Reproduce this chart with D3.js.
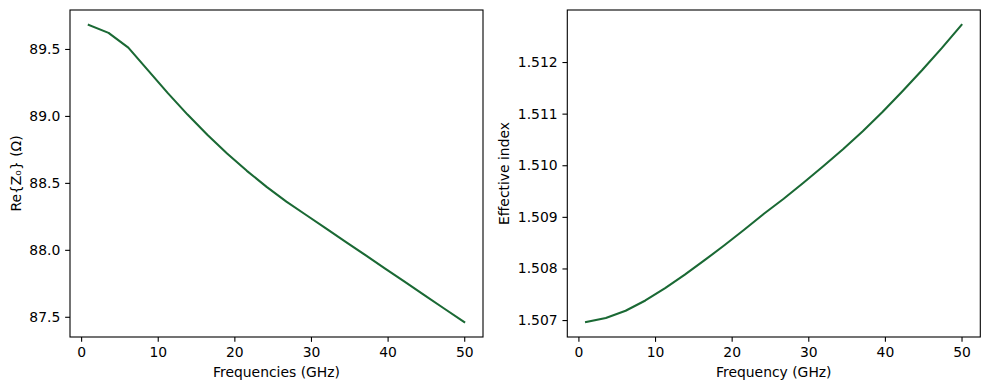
<!DOCTYPE html>
<html>
<head>
<meta charset="utf-8">
<script src="https://cdn.jsdelivr.net/npm/d3@7"></script>
<style>
  body { margin: 0; background: #fff; }
  svg { display: block; font-family: "DejaVu Sans", sans-serif; }
</style>
</head>
<body>
<svg id="chart" width="989" height="390"></svg>
<script>
// ---- data ----
const frequencies = [1.00, 3.58, 6.16, 8.74, 11.32, 13.89, 16.47, 19.05, 21.63, 24.21,
                     26.79, 29.37, 31.95, 34.53, 37.11, 39.68, 42.26, 44.84, 47.42, 50.00];
const reZ0 = [89.68, 89.62, 89.51, 89.34, 89.17, 89.01, 88.86, 88.72, 88.59, 88.47,
              88.36, 88.26, 88.16, 88.06, 87.96, 87.86, 87.76, 87.66, 87.56, 87.46];
const effIndex = [1.50696, 1.50704, 1.50718, 1.50738, 1.50762, 1.50788, 1.50816, 1.50845, 1.50875, 1.50906,
                  1.50935, 1.50966, 1.50998, 1.51031, 1.51066, 1.51103, 1.51143, 1.51184, 1.51227, 1.51272];
const xTicks = [0, 10, 20, 30, 40, 50];
const leftYTicks = [87.5, 88.0, 88.5, 89.0, 89.5];
const rightYTicks = [1.507, 1.508, 1.509, 1.510, 1.511, 1.512];
const leftXLabel = "Frequencies (GHz)";
const leftYLabel = "Re{Z\u2080} (\u03A9)";
const rightXLabel = "Frequency (GHz)";
const rightYLabel = "Effective index";

const lineColor = "#1a6934";
const svg = d3.select("#chart");
const fontPx = 13.9;
const tickLen = 4.86;

function padded(vals) {
  const [a, b] = d3.extent(vals);
  const m = (b - a) * 0.05;
  return [a - m, b + m];
}

function panel(box, xs, ys, yTicks, yFmt, xLabel, yLabel, yLabelX) {
  const x = d3.scaleLinear().domain(padded(xs)).range([box.l, box.r]);
  const y = d3.scaleLinear().domain(padded(ys)).range([box.b, box.t]);
  const g = svg.append("g");

  const line = d3.line().x((d, i) => x(xs[i])).y(d => y(d));
  g.append("path").datum(ys)
    .attr("d", line).attr("fill", "none")
    .attr("stroke", lineColor).attr("stroke-width", 2.08)
    .attr("stroke-linejoin", "round").attr("stroke-linecap", "square");

  const xAxis = d3.axisBottom(x).tickValues(xTicks).tickFormat(d3.format("d"))
    .tickSize(tickLen).tickPadding(4.86);
  const xg = g.append("g").attr("transform", `translate(0,${box.b})`).call(xAxis);
  const yAxis = d3.axisLeft(y).tickValues(yTicks).tickFormat(yFmt)
    .tickSize(tickLen).tickPadding(4.86);
  const yg = g.append("g").attr("transform", `translate(${box.l},0)`).call(yAxis);
  [xg, yg].forEach(a => {
    a.select(".domain").remove();
    a.selectAll("line").attr("stroke", "#000").attr("stroke-width", 1.1);
    a.selectAll("text").attr("font-size", fontPx).attr("font-family", "DejaVu Sans").attr("fill", "#000");
  });

  g.append("rect").attr("x", box.l).attr("y", box.t)
    .attr("width", box.r - box.l).attr("height", box.b - box.t)
    .attr("fill", "none").attr("stroke", "#000").attr("stroke-width", 1.1);

  g.append("text").attr("x", (box.l + box.r) / 2).attr("y", 377)
    .attr("text-anchor", "middle").attr("font-size", fontPx).text(xLabel);
  g.append("text")
    .attr("transform", `translate(${yLabelX},${(box.t + box.b) / 2}) rotate(-90)`)
    .attr("text-anchor", "middle").attr("font-size", fontPx).text(yLabel);
}

panel({l: 70, r: 483, t: 10, b: 337}, frequencies, reZ0, leftYTicks, d3.format(".1f"),
      leftXLabel, leftYLabel, 21);
panel({l: 567.3, r: 980.3, t: 10, b: 337}, frequencies, effIndex, rightYTicks, d3.format(".3f"),
      rightXLabel, rightYLabel, 509);
</script>
</body>
</html>
